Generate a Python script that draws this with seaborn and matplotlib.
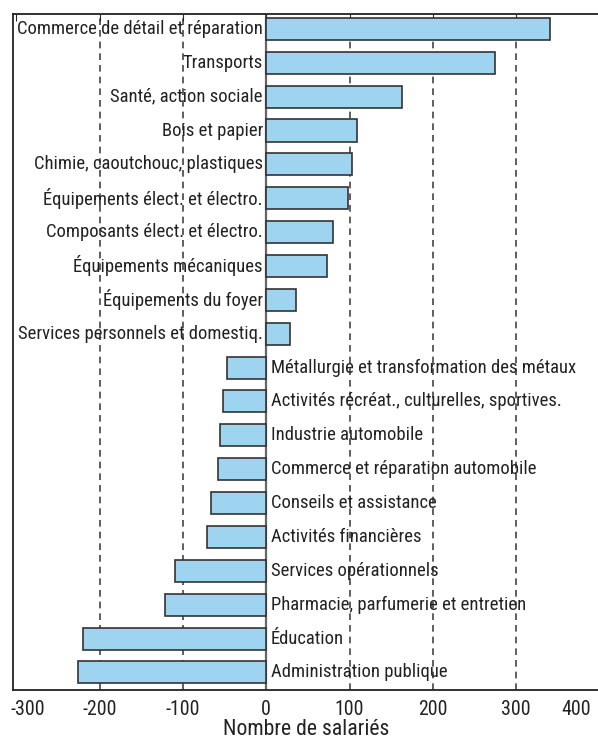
import matplotlib
matplotlib.use("Agg")
import matplotlib.pyplot as plt
import matplotlib.font_manager as fm
import matplotlib.transforms as mtransforms
import seaborn as sns
import pandas as pd

# Secteurs et variation du nombre de salariés
secteurs = [
    "Commerce de détail et réparation",
    "Transports",
    "Santé, action sociale",
    "Bois et papier",
    "Chimie, caoutchouc, plastiques",
    "Équipements élect. et électro.",
    "Composants élect. et électro.",
    "Équipements mécaniques",
    "Équipements du foyer",
    "Services personnels et domestiq.",
    "Métallurgie et transformation des métaux",
    "Activités récréat., culturelles, sportives.",
    "Industrie automobile",
    "Commerce et réparation automobile",
    "Conseils et assistance",
    "Activités financières",
    "Services opérationnels",
    "Pharmacie, parfumerie et entretien",
    "Éducation",
    "Administration publique",
]
salaries = [341, 275, 163, 109, 103, 98, 80, 73, 36, 28,
            -47, -52, -55, -58, -66, -71, -110, -121, -220, -226]

ticks = [-300, -200, -100, 0, 100, 200, 300, 400]
tick_labels = ["-300", "-200", "-100", "0", "100", "200", "300", "400"]

df = pd.DataFrame({"secteur": secteurs, "salaries": salaries})

sns.set_style("white")

# police étroite si disponible
noms = {f.name for f in fm.fontManager.ttflist}
etroites = [(f.name, f.stretch) for f in fm.fontManager.ttflist]
if "Roboto Condensed" in noms:
    famille, etirement = "Roboto Condensed", "normal"
elif "Liberation Sans Narrow" in noms:
    famille, etirement = "Liberation Sans Narrow", "normal"
elif ("DejaVu Sans", "condensed") in etroites:
    famille, etirement = "DejaVu Sans", "condensed"
else:
    famille, etirement = "Liberation Sans", "normal"
plt.rcParams["font.family"] = [famille, "DejaVu Sans"]
plt.rcParams["font.stretch"] = etirement

fig = plt.figure(figsize=(5.98, 7.39), dpi=100)
renderer = fig.canvas.get_renderer()


def taille_pour(texte, largeur_px, base=12):
    t = fig.text(0, 0, texte, fontsize=base, fontstretch=etirement)
    w = t.get_window_extent(renderer).width
    t.remove()
    return base * largeur_px / w


fs_lbl = taille_pour("Commerce de détail et réparation", 245)
fs_tick = taille_pour("-200", 34)
fs_xlab = taille_pour("Nombre de salariés", 166)

ax = fig.add_axes([13 / 598, 1 - 690 / 739, 1 - 13 / 598 + 0.003, (690 - 14) / 739])

sns.barplot(data=df, y="secteur", x="salaries", orient="h", color="#9fd4f1",
            edgecolor="#333333", linewidth=1.2, width=0.65, saturation=1, ax=ax)

ax.set_xlim(-304, 400.5)
ax.set_ylim(len(secteurs) - 0.48, -0.44)

# grille pointillée
for t in ticks:
    if t in (-300, 400):
        continue
    if t == 0:
        ax.axvline(0, color="#666666", lw=1.6, zorder=0.5)
    else:
        ax.axvline(t, color="#444444", lw=1.2, ls=(0, (4, 3)), zorder=0.5)

# étiquettes des secteurs
for i, (s, v) in enumerate(zip(secteurs, salaries)):
    if v >= 0:
        ax.text(-4, i, s, ha="right", va="center", fontsize=fs_lbl, color="#222222")
    else:
        ax.text(5.5, i, s, ha="left", va="center", fontsize=fs_lbl, color="#222222")

ax.set_yticks([])
ax.set_ylabel("")
ax.set_xticks(ticks)
# les étiquettes des bords sont décalées vers l'intérieur
ax.set_xticklabels([""] + tick_labels[1:-1] + [""], fontsize=fs_tick, color="#222222")
ax.tick_params(axis="x", direction="in", length=5, top=True, pad=7)
trans = mtransforms.blended_transform_factory(ax.transData, ax.transAxes)
for x, lab, dx in [(ticks[0], tick_labels[0], 11), (ticks[-1], tick_labels[-1], -23)]:
    off = mtransforms.ScaledTranslation(dx / 100, -7 / 72, fig.dpi_scale_trans)
    ax.text(x, 0, lab, transform=trans + off, ha="center", va="top",
            fontsize=fs_tick, color="#222222", clip_on=False)
ax.set_xlabel("Nombre de salariés", fontsize=fs_xlab, color="#222222", labelpad=0)

for side in ("left", "top", "bottom"):
    ax.spines[side].set_color("#222222")
    ax.spines[side].set_linewidth(1.3)
ax.spines["right"].set_visible(False)

fig.savefig("out.png", dpi=100)
